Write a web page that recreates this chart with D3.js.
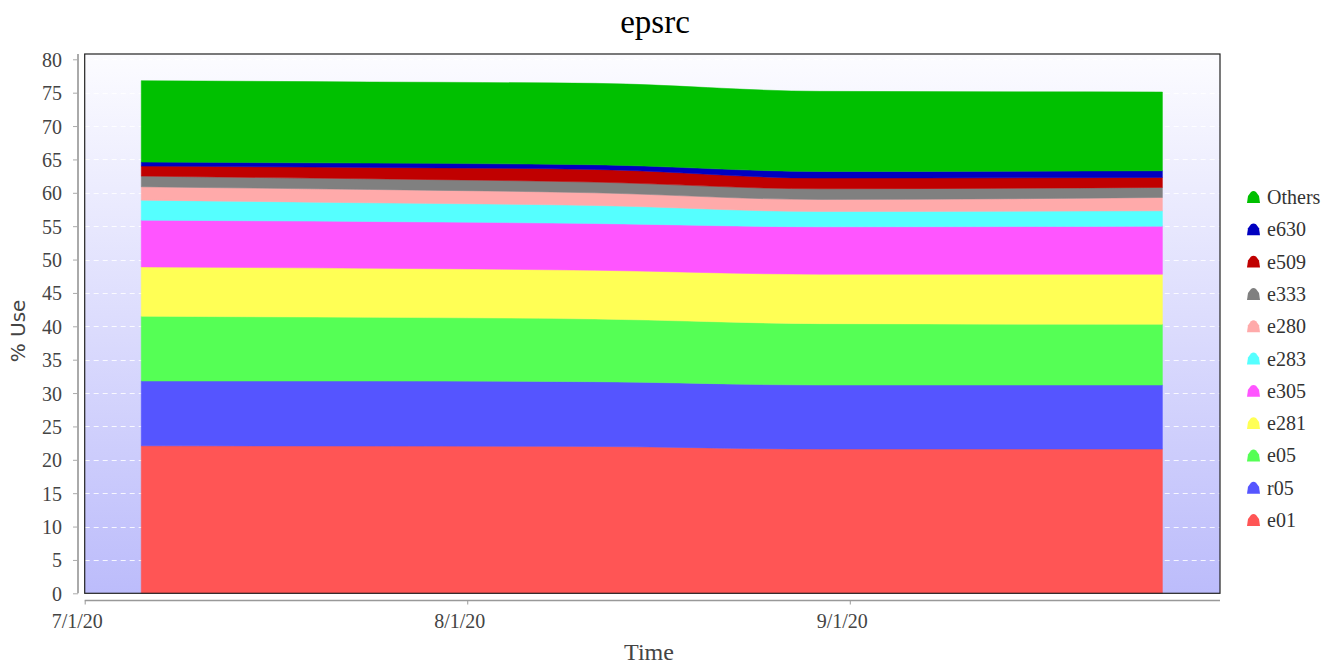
<!DOCTYPE html>
<html><head><meta charset="utf-8">
<script src="https://cdn.jsdelivr.net/npm/d3@7"></script>
<style>body{margin:0;background:#fff;} svg{display:block;}</style>
</head><body>
<svg id="chart" width="1338" height="666"></svg>
<script>
const dates = ["2020-07-05T14:00","2020-07-24T02:00","2020-08-11T08:00","2020-08-29T14:00","2020-09-26T08:00"];
const seriesNames = ["e01","r05","e05","e281","e305","e283","e280","e333","e509","e630","Others"];
const e01 =   [22.1, 22.05, 22.0, 21.6, 21.6];
const r05 =   [9.7, 9.75, 9.7, 9.6, 9.6];
const e05 =   [9.7, 9.55, 9.4, 9.2, 9.1];
const e281 =  [7.4, 7.35, 7.3, 7.4, 7.5];
const e305 =  [7.0, 7.0, 7.0, 7.1, 7.2];
const e283 =  [3.0, 2.8, 2.7, 2.3, 2.3];
const e280 =  [2.0, 2.0, 1.9, 1.8, 2.0];
const e333 =  [1.6, 1.6, 1.6, 1.6, 1.5];
const e509 =  [1.5, 1.7, 1.9, 1.6, 1.5];
const e630 =  [0.6, 0.65, 0.7, 1.0, 1.0];
const Others = [12.2, 12.15, 12.2, 12.0, 11.8];
const colors = ["#ff5555","#5555ff","#55ff55","#ffff55","#ff55ff","#55ffff","#ffaaaa","#808080","#c00000","#0000c0","#00c000"];
const yTicks = [0,5,10,15,20,25,30,35,40,45,50,55,60,65,70,75,80];
const xTickDates = ["2020-07-01","2020-08-01","2020-09-01"];
const xTickLabels = ["7/1/20","8/1/20","9/1/20"];
const title = "epsrc", xTitle = "Time", yTitle = "% Use";

const valuesBySeries = {e01,r05,e05,e281,e305,e283,e280,e333,e509,e630,Others};
const parse = s => new Date(s);
const table = dates.map((d,i)=>{ const o={date:parse(d)}; seriesNames.forEach(n=>o[n]=valuesBySeries[n][i]); return o; });

const svg = d3.select("#chart");
const L=84.7, R=1220, T=54, B=593.3;
const serif = "'Liberation Serif', 'Times New Roman', serif";
const x = d3.scaleTime().domain([parse("2020-07-01T00:00"), parse("2020-10-01T00:00")]).range([L,R]);
const y = d3.scaleLinear().domain([0,80]).range([B,59.3]);

const defs = svg.append("defs");
const grad = defs.append("linearGradient").attr("id","bg").attr("x1",0).attr("y1",0).attr("x2",0).attr("y2",1);
grad.append("stop").attr("offset","0%").attr("stop-color","#fcfcff");
grad.append("stop").attr("offset","100%").attr("stop-color","#bcbcfb");
svg.append("rect").attr("x",L).attr("y",T).attr("width",R-L).attr("height",B-T).attr("fill","url(#bg)");

// grid
svg.append("g").selectAll("line").data(yTicks.filter(v=>v>0)).join("line")
  .attr("x1",L).attr("x2",R).attr("y1",d=>Math.round(y(d))+0.5).attr("y2",d=>Math.round(y(d))+0.5)
  .attr("stroke","#ffffff").attr("stroke-opacity",0.85).attr("stroke-dasharray","5,4");

const stack = d3.stack().keys(seriesNames);
const layers = stack(table);
const area = d3.area().x(d=>x(d.data.date)).y0(d=>y(d[0])).y1(d=>y(d[1])).curve(d3.curveMonotoneX);
svg.append("g").selectAll("path").data(layers).join("path")
  .attr("d",area).attr("fill",(d,i)=>colors[i]).attr("stroke",(d,i)=>colors[i]).attr("stroke-width",0.5);

// frame
svg.append("rect").attr("x",L).attr("y",T).attr("width",R-L).attr("height",B-T)
  .attr("fill","none").attr("stroke","#222").attr("stroke-width",1.2);

// y axis
const yAxis = d3.axisLeft(y).tickValues(yTicks).tickSize(5).tickFormat(d3.format("d"));
const gy = svg.append("g").attr("transform","translate(78,0)").call(yAxis);
gy.select(".domain").attr("stroke","#aaa").attr("stroke-width",2).attr("d",`M0,${T}V${B}`);
gy.selectAll(".tick line").attr("stroke","#aaa");
gy.selectAll(".tick text").attr("font-family",serif).attr("font-size",20).attr("fill","#444").attr("x",-16).attr("dy","0.35em");

// x axis
const xAxis = d3.axisBottom(x).tickValues(xTickDates.map(parse)).tickSize(4).tickFormat((d,i)=>xTickLabels[i]);
const gx = svg.append("g").attr("transform","translate(0,600.5)").call(xAxis);
gx.select(".domain").attr("stroke","#999").attr("stroke-width",1.5).attr("d",`M${L},0H${R}`);
gx.selectAll(".tick line").attr("stroke","#999");
gx.selectAll(".tick text").attr("font-family",serif).attr("font-size",20).attr("fill","#444").attr("x",-8).attr("y",13).attr("dy","0.71em");

// titles
svg.append("text").attr("x",655).attr("y",33).attr("text-anchor","middle").attr("font-family",serif).attr("font-size",33).attr("fill","#000").text(title);
svg.append("text").attr("x",649).attr("y",660).attr("text-anchor","middle").attr("font-family",serif).attr("font-size",24).attr("fill","#444").text(xTitle);
svg.append("text").attr("transform","translate(25,331) rotate(-90)").attr("text-anchor","middle").attr("font-family","'DejaVu Sans', sans-serif").attr("font-size",20).attr("fill","#444").text(yTitle);

// legend
const legendOrder = seriesNames.slice().reverse();
const lg = svg.append("g").selectAll("g").data(legendOrder).join("g")
  .attr("transform",(d,i)=>`translate(1247,${197 + i*32.3})`);
lg.append("path").attr("d","M0,12 L1,5 L4,1 Q6.5,-0.8 9,1 L12,5 L13,12 Z").attr("transform","translate(0,-6)")
  .attr("fill",d=>colors[seriesNames.indexOf(d)]);
lg.append("text").attr("x",20).attr("y",0).attr("dy","0.35em").attr("font-family",serif).attr("font-size",20).attr("fill","#333").text(d=>d);
</script>
</body></html>
